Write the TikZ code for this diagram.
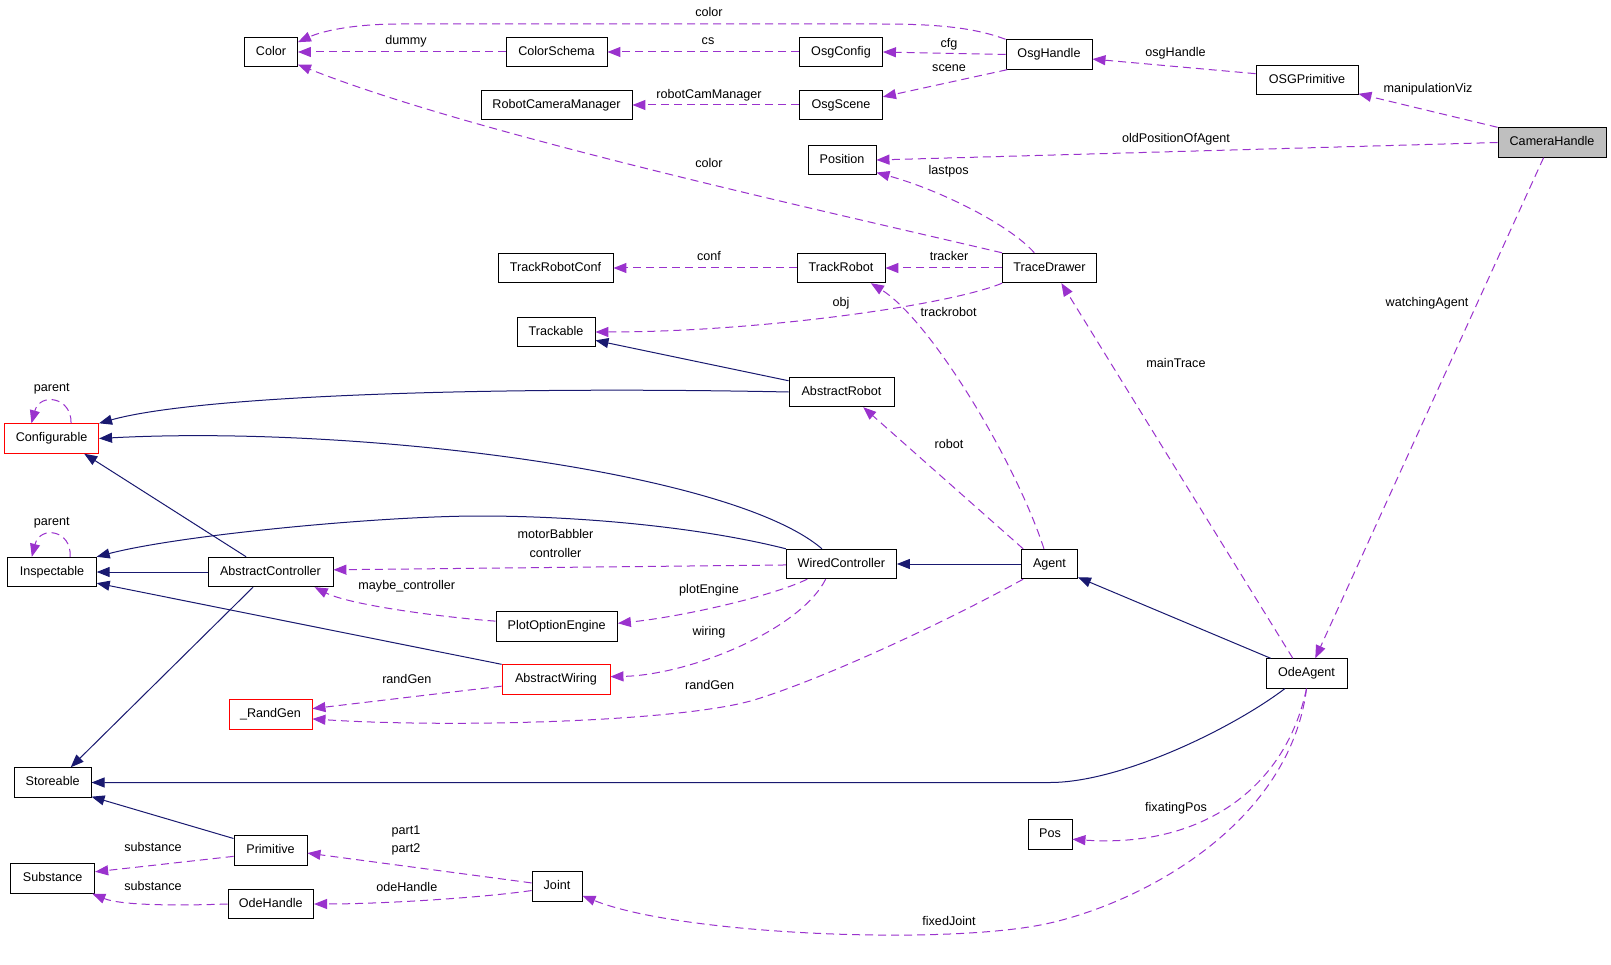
\documentclass[tikz,border=0pt]{standalone}
\usepackage{fontspec}
\setmainfont{Liberation Sans}
\usetikzlibrary{arrows.meta}
\definecolor{usecol}{HTML}{9A32CD}
\definecolor{inhcol}{HTML}{191970}
\definecolor{hlcol}{HTML}{BFBFBF}
\begin{document}
\begin{tikzpicture}[x=1pt,y=-1pt,
  font=\fontsize{12.6}{15}\selectfont,
  cls/.style={draw=black, line width=0.9pt, minimum height=29.5pt, inner sep=0pt,
    text height=9pt, text depth=2.6pt, fill=white, minimum width=#1},
  redcls/.style={cls=#1, draw=red},
  usage/.style={draw=usecol, line width=1pt, dash pattern=on 8pt off 5pt,
    -{Triangle[length=13pt,width=10pt]}},
  inherit/.style={draw=inhcol, line width=1pt, -{Triangle[length=13pt,width=10pt]}},
  lbl/.style={inner sep=0pt, text height=9pt, text depth=2.6pt}]
\fill[white] (0,0) rectangle (1611,965);
\useasboundingbox (0,0) rectangle (1611,965);

% nodes
\node[cls=53pt] (Color) at (271,52) {Color};
\node[cls=101pt] (ColorSchema) at (556.5,52) {ColorSchema};
\node[cls=83pt] (OsgConfig) at (841,52) {OsgConfig};
\node[cls=86pt] (OsgHandle) at (1049,54.5) {OsgHandle};
\node[cls=102pt] (OSGPrimitive) at (1307,80) {OSGPrimitive};
\node[cls=108pt, fill=hlcol] (CameraHandle) at (1552,142.5) {CameraHandle};
\node[cls=151pt] (RobotCameraManager) at (556.5,105) {RobotCameraManager};
\node[cls=83pt] (OsgScene) at (841,105) {OsgScene};
\node[cls=68pt] (Position) at (842,160) {Position};
\node[cls=115pt] (TrackRobotConf) at (555.5,268) {TrackRobotConf};
\node[cls=88pt] (TrackRobot) at (841,268) {TrackRobot};
\node[cls=94pt] (TraceDrawer) at (1049.5,268) {TraceDrawer};
\node[cls=78pt] (Trackable) at (556,332) {Trackable};
\node[cls=105pt] (AbstractRobot) at (841.5,392) {AbstractRobot};
\node[redcls=94pt] (Configurable) at (51.6,438.5) {Configurable};
\node[cls=88.5pt] (Inspectable) at (52,572) {Inspectable};
\node[cls=125pt] (AbstractController) at (270.5,572) {AbstractController};
\node[cls=110pt] (WiredController) at (841.4,564) {WiredController};
\node[cls=56pt] (Agent) at (1049.5,564) {Agent};
\node[cls=121.5pt] (PlotOptionEngine) at (556.7,626.5) {PlotOptionEngine};
\node[redcls=108pt] (AbstractWiring) at (556,679.5) {AbstractWiring};
\node[redcls=83pt] (RandGen) at (270.5,714.5) {\_RandGen};
\node[cls=81pt] (OdeAgent) at (1306.5,673.5) {OdeAgent};
\node[cls=77pt] (Storeable) at (52.6,782.5) {Storeable};
\node[cls=73pt] (Primitive) at (270.5,850.5) {Primitive};
\node[cls=84pt] (Substance) at (52.7,878.5) {Substance};
\node[cls=85.6pt] (OdeHandle) at (270.8,904) {OdeHandle};
\node[cls=50pt] (Joint) at (557,886.5) {Joint};
\node[cls=44pt] (Pos) at (1050,834.5) {Pos};

% usage edges
\draw[usage] (OsgHandle.north west) .. controls (975,28) and (940,24) .. (880,24) -- (400,24) .. controls (350,24) and (320,32) .. (Color.20);
\draw[usage] (ColorSchema.west) -- (Color.east);
\draw[usage] (OsgConfig.west) -- (ColorSchema.east);
\draw[usage] (OsgHandle.west) -- (OsgConfig.east);
\draw[usage] (OsgHandle.-160) -- (OsgScene.11);
\draw[usage] (OsgScene.west) -- (RobotCameraManager.east);
\draw[usage] (OSGPrimitive.173) -- (OsgHandle.-6);
\draw[usage] (CameraHandle.north west) -- (OSGPrimitive.-15);
\draw[usage] (CameraHandle.west) -- (Position.east);
\draw[usage] (TraceDrawer.north west) .. controls (820,210) and (470,133) .. (Color.-25);
\draw[usage] (TraceDrawer.135) .. controls (1010,225) and (940,190) .. (Position.-20);
\draw[usage] (TraceDrawer.west) -- (TrackRobot.east);
\draw[usage] (TrackRobot.west) -- (TrackRobotConf.east);
\draw[usage] (TraceDrawer.south west) .. controls (950,305) and (760,332) .. (Trackable.east);
\draw[usage] (Agent.110) .. controls (1015,460) and (930,320) .. (TrackRobot.-27);
\draw[usage] (Agent.150) -- (AbstractRobot.-35);
\draw[usage] (OdeAgent.132) -- (TraceDrawer.-52);
\draw[usage] (CameraHandle.-119) -- (OdeAgent.60);
\draw[usage] (OdeAgent.south) .. controls (1285,790) and (1200,848) .. (Pos.-12);
\draw[usage] (OdeAgent.south) .. controls (1290,820) and (1150,900) .. (1050,923) .. controls (950,946) and (680,935) .. (Joint.-20);
\draw[usage] (Joint.172) -- (Primitive.-4);
\draw[usage] (Joint.189) .. controls (480,898) and (380,904) .. (OdeHandle.east);
\draw[usage] (Primitive.189) -- (Substance.9);
\draw[usage] (OdeHandle.west) .. controls (170,906) and (120,905) .. (Substance.-21);
\draw[usage] (AbstractWiring.187) -- (RandGen.8);
\draw[usage] (Agent.-150) .. controls (940,625) and (820,680) .. (754,700) .. controls (680,722) and (450,728) .. (RandGen.-6);
\draw[usage] (WiredController.-136) .. controls (800,630) and (690,675) .. (AbstractWiring.3);
\draw[usage] (WiredController.-156) .. controls (770,597) and (680,617) .. (PlotOptionEngine.3);
\draw[usage] (PlotOptionEngine.175) .. controls (440,617) and (350,605) .. (AbstractController.-19);
\draw[usage] (WiredController.181) -- (AbstractController.2);
\draw[usage] (Inspectable.40) .. controls (72,530) and (40,525) .. (Inspectable.143);
\draw[usage] (Configurable.38) .. controls (72,397) and (40,392) .. (Configurable.143.5);

% inheritance edges
\draw[inherit] (Agent.west) -- (WiredController.east);
\draw[inherit] (OdeAgent.157) -- (Agent.-25);
\draw[inherit] (OdeAgent.-145) .. controls (1230,730) and (1120,782.5) .. (1050,782.5) -- (Storeable.east);
\draw[inherit] (AbstractController.-139) -- (Storeable.40);
\draw[inherit] (Primitive.162) -- (Storeable.-20);
\draw[inherit] (AbstractController.148) -- (Configurable.-25.5);
\draw[inherit] (AbstractController.west) -- (Inspectable.east);
\draw[inherit] (AbstractWiring.north west) -- (Inspectable.-14);
\draw[inherit] (AbstractRobot.168) -- (Trackable.-12);
\draw[inherit] (AbstractRobot.west) .. controls (500,386) and (200,395) .. (Configurable.north east);
\draw[inherit] (WiredController.142) .. controls (730,470) and (350,425) .. (Configurable.east);
\draw[inherit] (WiredController.north west) .. controls (700,527) and (580,516) .. (480,516) .. controls (380,516) and (180,535) .. (Inspectable.north east);

% labels
\node[lbl] (l1) at (709,13) {color};
\node[lbl] (l2) at (406,41) {dummy};
\node[lbl] (l3) at (708,41) {cs};
\node[lbl] (l4) at (949,44) {cfg};
\node[lbl] (l5) at (949,68) {scene};
\node[lbl] (l6) at (709,95) {robotCamManager};
\node[lbl] (l7) at (1175.5,53) {osgHandle};
\node[lbl] (l8) at (1428,89) {manipulationViz};
\node[lbl] (l9) at (1176,139) {oldPositionOfAgent};
\node[lbl] (l10) at (709,164) {color};
\node[lbl] (l11) at (948.6,171) {lastpos};
\node[lbl] (l12) at (949,257) {tracker};
\node[lbl] (l13) at (709,257) {conf};
\node[lbl] (l14) at (841,303) {obj};
\node[lbl] (l15) at (948.6,313) {trackrobot};
\node[lbl] (l16) at (949,445) {robot};
\node[lbl] (l17) at (1176,364.7) {mainTrace};
\node[lbl] (l18) at (1427,303) {watchingAgent};
\node[lbl] (l19) at (51.8,388.7) {parent};
\node[lbl] (l20) at (51.8,522.7) {parent};
\node[lbl] (l21a) at (555.5,535.7) {motorBabbler};
\node[lbl] (l21b) at (555.5,554.7) {controller};
\node[lbl] (l22) at (406.8,586.7) {maybe\_controller};
\node[lbl] (l23) at (709,590.7) {plotEngine};
\node[lbl] (l24) at (709,632.7) {wiring};
\node[lbl] (l25) at (406.8,680.7) {randGen};
\node[lbl] (l26) at (709.7,686.7) {randGen};
\node[lbl] (l27) at (1176,808.7) {fixatingPos};
\node[lbl] (l28a) at (406,831) {part1};
\node[lbl] (l28b) at (406,849) {part2};
\node[lbl] (l29) at (153,848.7) {substance};
\node[lbl] (l30) at (153,887.7) {substance};
\node[lbl] (l31) at (406.8,888.7) {odeHandle};
\node[lbl] (l32) at (949,922.7) {fixedJoint};
\end{tikzpicture}
\end{document}
